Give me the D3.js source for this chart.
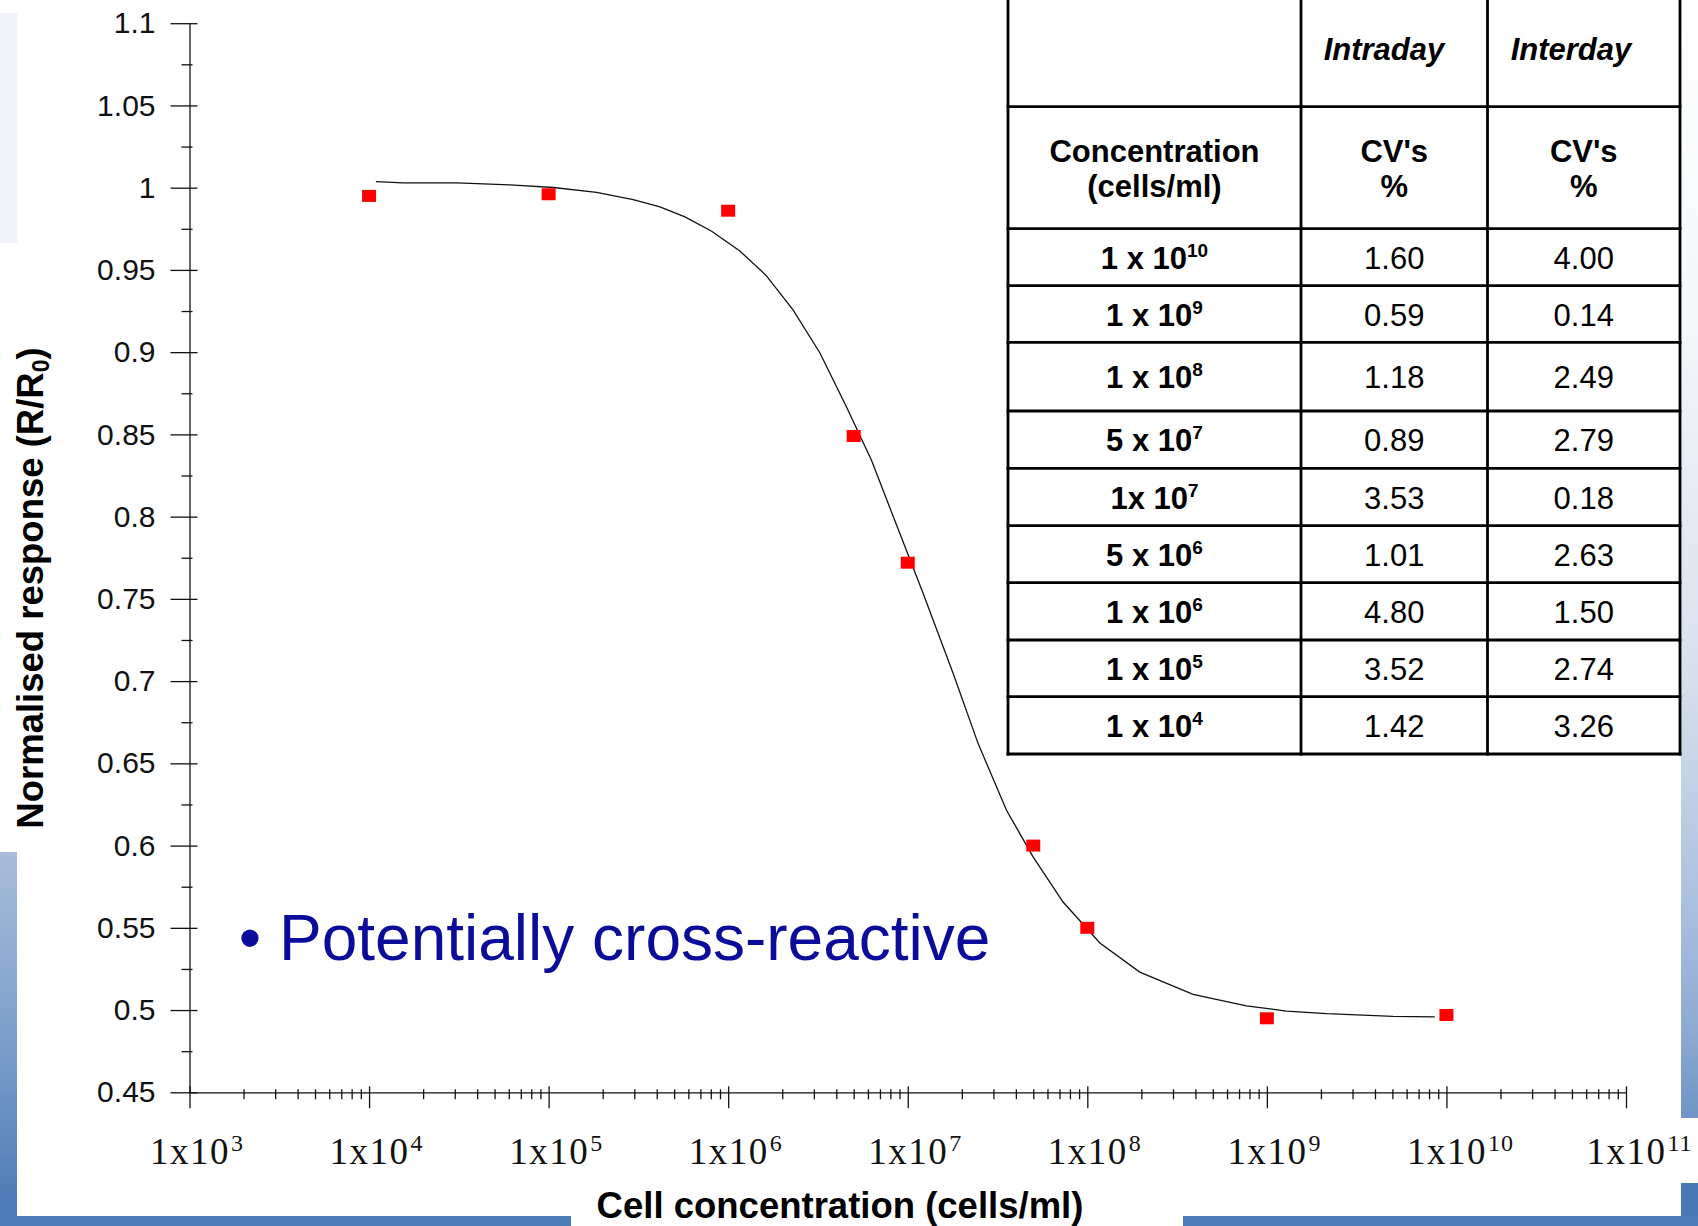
<!DOCTYPE html>
<html>
<head>
<meta charset="utf-8">
<script src="https://cdn.jsdelivr.net/npm/d3@7"></script>
<style>
  html, body { margin: 0; padding: 0; background: #ffffff; }
  svg { display: block; }
</style>
</head>
<body>
<svg id="chart" width="1698" height="1226"></svg>
<script>
// ---- Measured responses (normalised R/R0) ----
const concentrations = [1e4, 1e5, 1e6, 5e6, 1e7, 5e7, 1e8, 1e9, 1e10];
const normalisedResponse = [0.995, 0.996, 0.986, 0.849, 0.772, 0.600, 0.550, 0.495, 0.497];

// ---- Fitted sigmoid curve, sampled (log10 concentration, response) ----
const fitLogConc = [4.038, 4.190, 4.488, 4.785, 5.026, 5.267, 5.471, 5.620, 5.759, 5.908,
                    6.065, 6.210, 6.362, 6.511, 6.659, 6.798, 6.956, 7.086, 7.253, 7.392,
                    7.550, 7.698, 7.865, 8.070, 8.292, 8.589, 8.886, 9.109, 9.332, 9.703, 9.935];
const fitResponse = [1.0037, 1.0029, 1.0029, 1.0017, 1.0001, 0.9971, 0.9928, 0.9883, 0.9822, 0.9735,
                     0.9615, 0.9468, 0.9255, 0.8995, 0.8667, 0.8343, 0.7897, 0.7532, 0.7046, 0.6620,
                     0.6215, 0.5931, 0.5657, 0.5408, 0.5231, 0.5096, 0.5025, 0.4994, 0.4978, 0.4962, 0.4958];

// ---- Axis ticks ----
const xTickExponents = [3, 4, 5, 6, 7, 8, 9, 10, 11];
const yTickValues = [0.45, 0.5, 0.55, 0.6, 0.65, 0.7, 0.75, 0.8, 0.85, 0.9, 0.95, 1, 1.05, 1.1];
const yTickLabels = ["0.45", "0.5", "0.55", "0.6", "0.65", "0.7", "0.75", "0.8", "0.85", "0.9", "0.95", "1", "1.05", "1.1"];

// ---- Precision table ----
const concBase = ["1 x 10", "1 x 10", "1 x 10", "5 x 10", "1x 10", "5 x 10", "1 x 10", "1 x 10", "1 x 10"];
const concExp = ["10", "9", "8", "7", "7", "6", "6", "5", "4"];
const intradayCV = ["1.60", "0.59", "1.18", "0.89", "3.53", "1.01", "4.80", "3.52", "1.42"];
const interdayCV = ["4.00", "0.14", "2.49", "2.79", "0.18", "2.63", "1.50", "2.74", "3.26"];

const SANS = "'Liberation Sans', Arial, Helvetica, sans-serif";
const SERIF = "'Liberation Serif', 'Times New Roman', serif";

const svg = d3.select("#chart");
const defs = svg.append("defs");

// ---- Slide frame decoration ----
const gLeft = defs.append("linearGradient").attr("id", "leftStrip")
  .attr("x1", 0).attr("y1", 0).attr("x2", 0).attr("y2", 1);
gLeft.append("stop").attr("offset", 0).attr("stop-color", "#a9bdd9");
gLeft.append("stop").attr("offset", 0.5).attr("stop-color", "#7c9ecb");
gLeft.append("stop").attr("offset", 1).attr("stop-color", "#4877b4");

const gRight = defs.append("linearGradient").attr("id", "rightStrip")
  .attr("x1", 0).attr("y1", 0).attr("x2", 0).attr("y2", 1);
[[0, "#ffffff"], [0.3, "#f3f6fa"], [0.6, "#d7e1ee"], [0.8, "#adc2de"], [0.92, "#8eaad3"], [1, "#7094c6"]]
  .forEach(([o, c]) => gRight.append("stop").attr("offset", o).attr("stop-color", c));

const frame = svg.append("g");
frame.append("rect").attr("x", 0).attr("y", 13).attr("width", 17).attr("height", 230).attr("fill", "#f0f3f8");
frame.append("rect").attr("x", 0).attr("y", 852).attr("width", 17).attr("height", 374).attr("fill", "url(#leftStrip)");
frame.append("rect").attr("x", 1681).attr("y", 0).attr("width", 17).attr("height", 1118).attr("fill", "url(#rightStrip)");
frame.append("rect").attr("x", 1681).attr("y", 1183).attr("width", 17).attr("height", 43).attr("fill", "#4a7ab5");
frame.append("rect").attr("x", 0).attr("y", 1216).attr("width", 571).attr("height", 10).attr("fill", "#4a7bb6");
frame.append("rect").attr("x", 1183).attr("y", 1216).attr("width", 515).attr("height", 10).attr("fill", "#4a7bb6");

// ---- Scales ----
const x = d3.scaleLog().domain([1e3, 1e11]).range([189.5, 1626]);
const y = d3.scaleLinear().domain([0.45, 1.1]).range([1092.3, 23.2]);

const axisColor = "#111";

// ---- Y axis ----
const yMinor = d3.range(0, 13).map(i => 0.475 + i * 0.05);
const yAxisMinor = svg.append("g").attr("transform", `translate(${x(1e3)},0)`)
  .call(d3.axisLeft(y).tickValues(yMinor).tickSize(8).tickSizeOuter(0).tickFormat(""));
yAxisMinor.select(".domain").remove();
yAxisMinor.selectAll(".tick line").attr("x1", 3).attr("stroke", axisColor).attr("stroke-width", 1.3);

const yAxis = svg.append("g").attr("transform", `translate(${x(1e3)},0)`)
  .call(d3.axisLeft(y).tickValues(yTickValues).tickSize(19).tickSizeOuter(0)
    .tickFormat((d, i) => yTickLabels[i]));
yAxis.select(".domain").attr("stroke", axisColor).attr("stroke-width", 1.3);
yAxis.selectAll(".tick line").attr("x1", 8).attr("stroke", axisColor).attr("stroke-width", 1.3);
yAxis.selectAll(".tick text")
  .attr("x", -34).attr("dy", "0.32em")
  .attr("font-family", SANS).attr("font-size", 30).attr("fill", "#111");

// ---- X axis ----
const xMinor = [];
for (let e = 3; e < 11; e++) for (let k = 2; k <= 9; k++) xMinor.push(k * Math.pow(10, e));
const xAxisMinor = svg.append("g").attr("transform", `translate(0,${y(0.45)})`)
  .call(d3.axisBottom(x).tickValues(xMinor).tickSize(7).tickSizeOuter(0).tickFormat(""));
xAxisMinor.select(".domain").remove();
xAxisMinor.selectAll(".tick line").attr("y1", -3).attr("stroke", axisColor).attr("stroke-width", 1.3);

const xAxis = svg.append("g").attr("transform", `translate(0,${y(0.45)})`)
  .call(d3.axisBottom(x).tickValues(xTickExponents.map(e => Math.pow(10, e)))
    .tickSize(16).tickSizeOuter(0).tickFormat(""));
xAxis.select(".domain").attr("stroke", axisColor).attr("stroke-width", 1.3);
xAxis.selectAll(".tick line").attr("y1", -6).attr("stroke", axisColor).attr("stroke-width", 1.3);
xAxis.selectAll(".tick text").each(function (d, i) {
  const t = d3.select(this)
    .attr("text-anchor", "start").attr("y", 72).attr("dy", null)
    .attr("font-family", SERIF).attr("font-size", 37).attr("letter-spacing", 1.5).attr("fill", "#111");
  t.text(null);
  const base = t.append("tspan").text("1x10");
  t.append("tspan").attr("dx", 1).attr("dy", -13).attr("font-size", 24).attr("letter-spacing", 1)
    .text(String(xTickExponents[i]));
  const w = base.node().getComputedTextLength();
  t.attr("x", -w / 2);
});

// ---- Axis titles ----
svg.append("text")
  .attr("x", 840).attr("y", 1218).attr("text-anchor", "middle")
  .attr("font-family", SANS).attr("font-weight", "bold").attr("font-size", 36.5).attr("fill", "#000")
  .text("Cell concentration (cells/ml)");

const yTitle = svg.append("text")
  .attr("transform", "translate(43,588) rotate(-90)").attr("text-anchor", "middle")
  .attr("font-family", SANS).attr("font-weight", "bold").attr("font-size", 36.5).attr("fill", "#000");
yTitle.append("tspan").text("Normalised response (R/R");
yTitle.append("tspan").attr("font-size", 23).attr("dy", 6).text("0");
yTitle.append("tspan").attr("dy", -6).text(")");

// ---- Fitted curve ----
const line = d3.line()
  .x((d, i) => x(Math.pow(10, fitLogConc[i])))
  .y((d, i) => y(fitResponse[i]));
svg.append("path")
  .attr("d", line(fitLogConc))
  .attr("fill", "none").attr("stroke", "#111").attr("stroke-width", 1.3);

// ---- Data points ----
svg.append("g").selectAll("rect")
  .data(concentrations)
  .join("rect")
  .attr("x", d => x(d) - 7)
  .attr("y", (d, i) => y(normalisedResponse[i]) - 6)
  .attr("width", 14).attr("height", 12)
  .attr("fill", "#ff0000");

// ---- Annotation ----
svg.append("text")
  .attr("x", 250).attr("y", 960).attr("text-anchor", "middle")
  .attr("font-family", SANS).attr("font-size", 64).attr("fill", "#0c0c9a")
  .text("\u2022");
svg.append("text")
  .attr("x", 279).attr("y", 960)
  .attr("font-family", SANS).attr("font-size", 64).attr("fill", "#0c0c9a")
  .text("Potentially cross-reactive");

// ---- Precision table ----
const colEdges = [1008, 1301, 1487.5, 1680];
const rowEdges = [-4, 106.7, 228.7, 285.7, 342.3, 411, 468.3, 525.7, 582.7, 640, 696.7, 754];
const colMid = i => (colEdges[i] + colEdges[i + 1]) / 2;
const table = svg.append("g");

table.append("rect")
  .attr("x", colEdges[0]).attr("y", rowEdges[0])
  .attr("width", colEdges[3] - colEdges[0]).attr("height", rowEdges[rowEdges.length - 1] - rowEdges[0])
  .attr("fill", "#fff");

const cellText = (xPos, yPos, str, opts = {}) => table.append("text")
  .attr("x", xPos).attr("y", yPos).attr("text-anchor", "middle")
  .attr("font-family", SANS).attr("font-size", opts.size || 31)
  .attr("font-weight", opts.weight || "normal").attr("font-style", opts.style || "normal")
  .attr("fill", "#000").text(str);

cellText(1384, 60, "Intraday", { weight: "bold", style: "italic" });
cellText(1571, 60, "Interday", { weight: "bold", style: "italic" });
cellText(colMid(0), 161.5, "Concentration", { weight: "bold" });
cellText(colMid(0), 197, "(cells/ml)", { weight: "bold" });
cellText(colMid(1), 161.5, "CV's", { weight: "bold" });
cellText(colMid(1), 197, "%", { weight: "bold" });
cellText(colMid(2), 161.5, "CV's", { weight: "bold" });
cellText(colMid(2), 197, "%", { weight: "bold" });

concBase.forEach((b, i) => {
  const mid = (rowEdges[i + 2] + rowEdges[i + 3]) / 2;
  const base = mid + 11.5;
  const t = table.append("text")
    .attr("x", colMid(0)).attr("y", base).attr("text-anchor", "middle")
    .attr("font-family", SANS).attr("font-size", 31).attr("font-weight", "bold").attr("fill", "#000");
  t.append("tspan").text(b);
  t.append("tspan").attr("font-size", 19).attr("dy", -12).text(concExp[i]);
  cellText(colMid(1), base, intradayCV[i]);
  cellText(colMid(2), base, interdayCV[i]);
});

// grid lines
rowEdges.slice(1).forEach(r => table.append("line")
  .attr("x1", colEdges[0] - 1.4).attr("x2", colEdges[3] + 1.4).attr("y1", r).attr("y2", r)
  .attr("stroke", "#000").attr("stroke-width", 2.8));
colEdges.forEach(c => table.append("line")
  .attr("x1", c).attr("x2", c).attr("y1", rowEdges[0]).attr("y2", rowEdges[rowEdges.length - 1] + 1.4)
  .attr("stroke", "#000").attr("stroke-width", 2.8));
</script>
</body>
</html>
